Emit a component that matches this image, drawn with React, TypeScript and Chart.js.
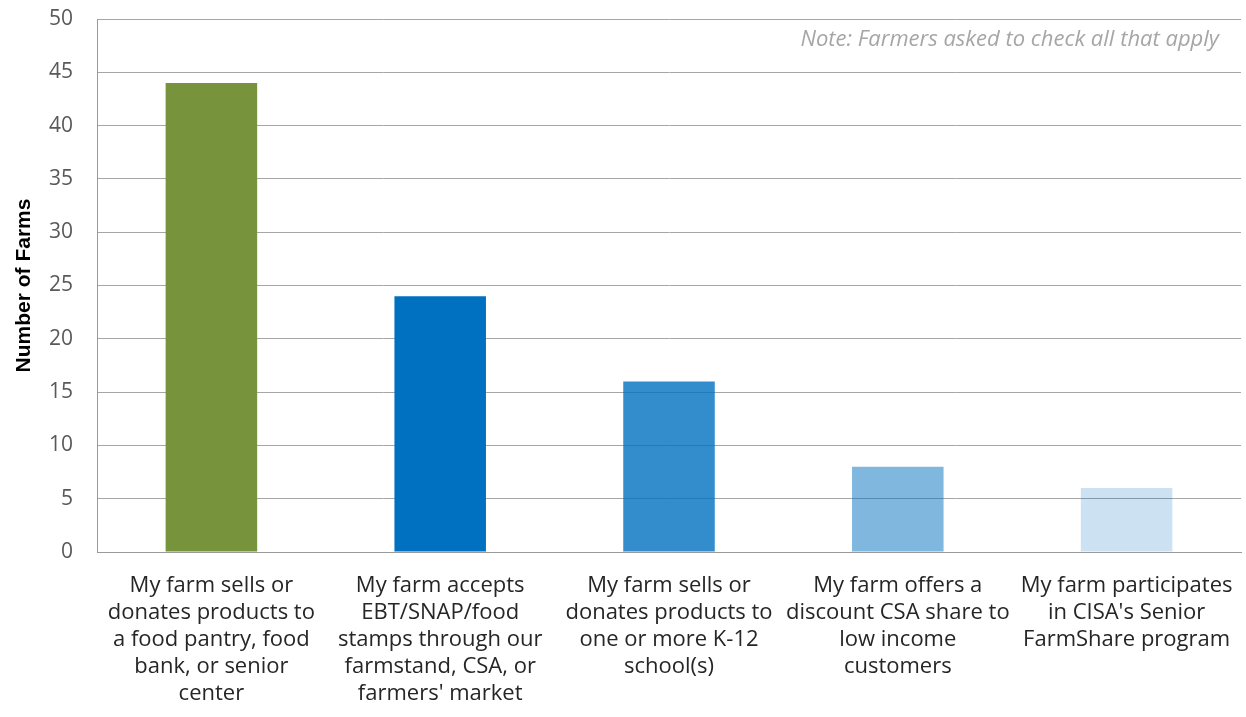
import React, { useEffect, useRef } from "react";
import { Chart, registerables } from "chart.js";

Chart.register(...registerables);

const categories: string[][] = [
  ["My farm sells or", "donates products to", "a food pantry, food", "bank, or senior", "center"],
  ["My farm accepts", "EBT/SNAP/food", "stamps through our", "farmstand, CSA, or", "farmers' market"],
  ["My farm sells or", "donates products to", "one or more K-12", "school(s)"],
  ["My farm offers a", "discount CSA share to", "low income", "customers"],
  ["My farm participates", "in CISA's Senior", "FarmShare program"],
];
const farmCounts: number[] = [44, 24, 16, 8, 6];
const barColors: string[] = [
  "#77933C",
  "#0070C0",
  "rgba(0,112,192,0.80)",
  "rgba(0,112,192,0.50)",
  "rgba(0,112,192,0.20)",
];
const yTitle = "Number of Farms";
const noteText = "Note: Farmers asked to check all that apply";

const notePlugin = {
  id: "noteText",
  afterDraw(chart: any) {
    const { ctx, chartArea } = chart;
    ctx.save();
    ctx.font = "italic 22px 'Open Sans'";
    ctx.fillStyle = "#A6A6A6";
    ctx.textAlign = "right";
    ctx.textBaseline = "middle";
    ctx.fillText(noteText, chartArea.right - 22, chartArea.top + 21);
    ctx.restore();
  },
};

export default function App() {
  const ref = useRef<HTMLCanvasElement | null>(null);
  useEffect(() => {
    document.body.style.margin = "0";
    if (!ref.current) return;
    const chart = new Chart(ref.current, {
      type: "bar",
      data: {
        labels: categories,
        datasets: [
          {
            data: farmCounts,
            backgroundColor: barColors,
            barPercentage: 0.4,
            categoryPercentage: 1,
          },
        ],
      },
      options: {
        animation: false,
        responsive: false,
        maintainAspectRatio: false,
        layout: { padding: { top: 19, right: 5, left: 0, bottom: 0 } },
        plugins: { legend: { display: false }, tooltip: { enabled: false } },
        scales: {
          x: {
            grid: { display: false, drawTicks: false },
            border: { color: "#9A9A9A", width: 1 },
            ticks: {
              color: "#262626",
              font: { family: "'Open Sans'", size: 22, lineHeight: 27 / 22 },
              padding: 20,
              maxRotation: 0,
              autoSkip: false,
            },
            afterFit(scale: any) {
              scale.height = 165;
              scale.paddingLeft = 0;
              scale.paddingRight = 0;
            },
          },
          y: {
            min: 0,
            max: 50,
            ticks: {
              stepSize: 5,
              color: "#595959",
              font: { family: "'Open Sans'", size: 21, lineHeight: 1.0 },
              padding: 24,
            },
            grid: { color: "#A6A6A6", lineWidth: 1, drawTicks: false },
            border: { color: "#9A9A9A", width: 1 },
            title: {
              display: true,
              text: yTitle,
              color: "#000000",
              font: { family: "'Liberation Sans'", size: 21, weight: "bold" },
              padding: { top: 12, bottom: 0 },
            },
            afterFit(scale: any) {
              scale.width = 97;
              scale.paddingTop = 0;
              scale.paddingBottom = 0;
            },
          },
        },
      },
      plugins: [notePlugin],
    });
    return () => chart.destroy();
  }, []);
  return (
    <div style={{ width: 1246, height: 717 }}>
      <canvas ref={ref} width={1246} height={717} style={{ display: "block" }} />
    </div>
  );
}
